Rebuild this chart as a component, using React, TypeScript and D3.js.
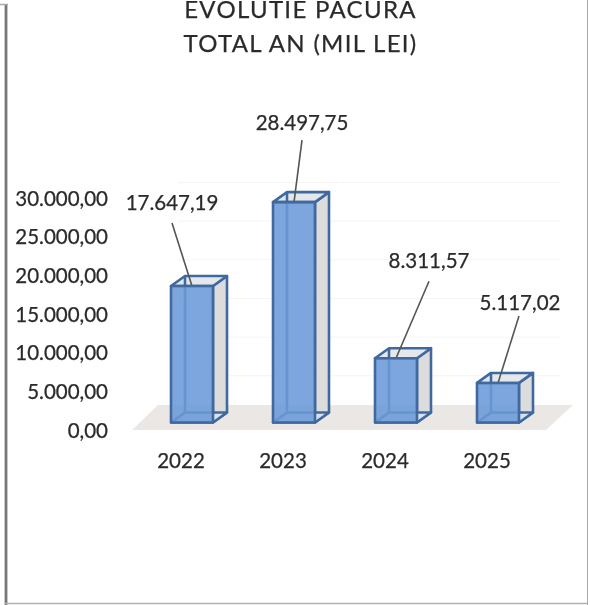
import React from "react";
import * as d3 from "d3";

const categories = ["2022", "2023", "2024", "2025"];
const values = [17647.19, 28497.75, 8311.57, 5117.02];
const valueLabels = ["17.647,19", "28.497,75", "8.311,57", "5.117,02"];
const ticks = [0, 5000, 10000, 15000, 20000, 25000, 30000];
const tickLabels = ["0,00", "5.000,00", "10.000,00", "15.000,00", "20.000,00", "25.000,00", "30.000,00"];
const titleLines = ["EVOLUTIE PACURA", "TOTAL AN (MIL LEI)"];

// layout only: label anchors relative to the bar's front-top centre
const labelDx = [-20, 8, 33, 22];
const labelDy = [-83, -79, -97, -80];
const lineTopDx = [-20, 8, 33, 21];
const lineTopDy = [-63, -62, -77, -67];

const W = 590;
const H = 605;
const FONT = "Lato, Carlito, 'Open Sans', sans-serif";
const TEXT = "#2b2b2b";
const DX = 14;
const DY = -10;

const y = d3.scaleLinear().domain([0, 30000]).range([422.5, 190.5]);
const x = d3.scaleBand<string>().domain(categories).range([171, 519]).paddingInner(60 / 102).paddingOuter(0);

const pts = (p: [number, number][]) => p.map((q) => q.join(",")).join(" ");

const textStyle = { stroke: TEXT, strokeWidth: 0.25 };

export default function App() {
  const bw = x.bandwidth();
  const line = d3.line();
  return (
    <svg width={W} height={H} viewBox={`0 0 ${W} ${H}`} style={{ position: "absolute", left: 0, top: 0, background: "#fff" }}>
      <defs>
        <filter id="soft" x="0" y="0" width="100%" height="100%">
          <feGaussianBlur stdDeviation="0.45" />
        </filter>
      </defs>
      <g filter="url(#soft)">
        {/* page frame */}
        <path d="M6,5V605" stroke="#777" strokeWidth={2.8} fill="none" />
        <path d="M0,4.5H8" stroke="#aaa" strokeWidth={1.5} fill="none" />
        <path d="M588,0V605" stroke="#aaa" strokeWidth={2} fill="none" />
        <path d="M5,603.5H588" stroke="#b0b0b0" strokeWidth={1.5} fill="none" />

        {/* title */}
        {titleLines.map((t, i) => (
          <text key={t} x={300.5} y={18 + i * 34} textAnchor="middle" fontFamily={FONT} fontSize={24} letterSpacing={1.3} fill={TEXT} style={textStyle}>
            {t}
          </text>
        ))}

        {/* gridlines */}
        {ticks.slice(1).map((t) => (
          <line key={t} x1={178} x2={560} y1={y(t) - 8} y2={y(t) - 8} stroke="#f6f4f2" strokeWidth={1} />
        ))}

        {/* floor */}
        <polygon points="158,405 573,405 546,430 132,430" fill="#ebe7e4" />

        {/* y axis labels */}
        {ticks.map((t, i) => (
          <text key={t} x={108} y={y(t) + 15} textAnchor="end" fontFamily={FONT} fontSize={20.5} fill={TEXT} style={textStyle}>
            {tickLabels[i]}
          </text>
        ))}

        {/* x axis labels */}
        {categories.map((c) => (
          <text key={c} x={(x(c) as number) + bw / 2 - 11} y={468} textAnchor="middle" fontFamily={FONT} fontSize={20.5} fill={TEXT} style={textStyle}>
            {c}
          </text>
        ))}

        {/* bars */}
        {values.map((v, i) => {
          const x0 = x(categories[i]) as number;
          const x1 = x0 + bw;
          const yT = y(v);
          const yB = y(0);
          const stroke = "#41699f";
          const sw = 2.6;
          const cx = x0 + bw / 2;
          return (
            <g key={categories[i]}>
              {/* right side */}
              <polygon points={pts([[x1, yT], [x1 + DX, yT + DY], [x1 + DX, yB + DY], [x1, yB]])} fill="#dcdcdc" stroke={stroke} strokeWidth={sw} strokeLinejoin="round" />
              {/* top */}
              <polygon points={pts([[x0, yT], [x0 + DX, yT + DY], [x1 + DX, yT + DY], [x1, yT]])} fill="#e4e8ec" stroke={stroke} strokeWidth={sw} strokeLinejoin="round" />
              {/* bottom */}
              <polygon points={pts([[x0, yB], [x0 + DX, yB + DY], [x1 + DX, yB + DY], [x1, yB]])} fill="#d8e2ee" stroke={stroke} strokeWidth={sw} strokeLinejoin="round" />
              {/* back left edge */}
              <path d={line([[x0 + DX, yT + DY], [x0 + DX, yB + DY]]) as string} stroke={stroke} strokeWidth={sw} fill="none" />
              {/* leader */}
              <path d={line([[cx + lineTopDx[i], yT + lineTopDy[i]], [cx, yT]]) as string} stroke="#555" strokeWidth={1.6} fill="none" />
              {/* front */}
              <rect x={x0} y={yT} width={bw} height={yB - yT} fill="#6a9ad8" fillOpacity={0.88} stroke={stroke} strokeWidth={sw} strokeLinejoin="round" />
              <text x={cx + labelDx[i]} y={yT + labelDy[i] + 7} textAnchor="middle" fontFamily={FONT} fontSize={20.5} fill={TEXT} style={textStyle}>
                {valueLabels[i]}
              </text>
            </g>
          );
        })}
      </g>
    </svg>
  );
}
